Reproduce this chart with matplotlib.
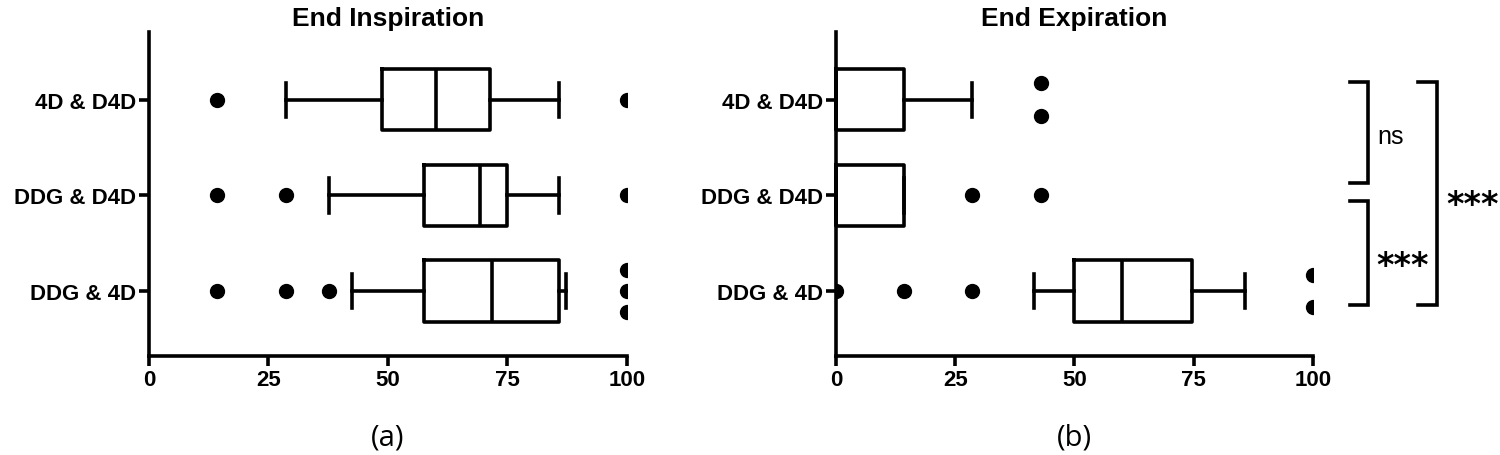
import matplotlib
matplotlib.use('Agg')
import matplotlib.pyplot as plt

# group names (top to bottom)
groups = ['4D & D4D', 'DDG & D4D', 'DDG & 4D']

# End Inspiration box stats
insp_q1 = [48.8, 57.6, 57.6]
insp_med = [60.0, 69.2, 71.7]
insp_q3 = [71.4, 75.0, 85.8]
insp_lo = [28.6, 37.6, 42.5]
insp_hi = [85.7, 85.7, 87.2]
insp_fliers = [[14.3, 100], [14.3, 28.6, 100], [14.3, 28.6, 37.6, 100, 100, 100]]

# End Expiration box stats
exp_q1 = [0.0, 0.0, 50.0]
exp_med = [0.0, 0.0, 60.0]
exp_q3 = [14.3, 14.3, 74.6]
exp_lo = [0.0, 0.0, 41.6]
exp_hi = [28.6, 14.3, 85.7]
exp_fliers = [[42.9, 42.9], [28.6, 42.9], [0.0, 14.3, 28.6, 100, 100]]

xticks = [0, 25, 50, 75, 100]
LW = 2.6
bold_font = ['Liberation Sans', 'DejaVu Sans']


def make_stats(q1, med, q3, lo, hi):
    return [dict(q1=a, med=b, q3=c, whislo=d, whishi=e, fliers=[])
            for a, b, c, d, e in zip(q1, med, q3, lo, hi)]


def spread(vals):
    # stack repeated values vertically like the original
    out = []
    for i, v in enumerate(vals):
        same = [j for j, w in enumerate(vals) if w == v]
        n = len(same)
        k = same.index(i)
        step = 0.22 if n == 3 else 0.34
        out.append((k - (n - 1) / 2) * step)
    return out


def draw_panel(ax, stats, fliers, title, tag):
    pos = list(range(len(groups)))
    art = ax.bxp(stats, positions=pos, vert=False, widths=0.64,
                 showfliers=False, patch_artist=False,
                 boxprops=dict(color='black', linewidth=LW),
                 whiskerprops=dict(color='black', linewidth=LW),
                 capprops=dict(color='black', linewidth=LW),
                 medianprops=dict(color='black', linewidth=LW),
                 capwidths=0.36)
    for key in ['boxes', 'whiskers', 'caps', 'medians']:
        for a in art[key]:
            a.set_clip_on(False)
    for p, fl in zip(pos, fliers):
        offs = spread(fl)
        ax.plot(fl, [p + o for o in offs], 'o', color='black', markersize=10,
                clip_on=True, zorder=3)
    ax.set_xlim(0, 100)
    ax.set_ylim(2.68, -0.71)
    ax.set_yticks(pos)
    ax.set_yticklabels(groups)
    ax.set_xticks(xticks)
    ax.set_xticklabels([str(t) for t in xticks])
    for lab in ax.get_xticklabels() + ax.get_yticklabels():
        lab.set_family(bold_font)
        lab.set_fontweight('bold')
        lab.set_fontsize(16)
    ax.tick_params(axis='both', width=LW, length=7, pad=2)
    ax.spines['top'].set_visible(False)
    ax.spines['right'].set_visible(False)
    ax.spines['left'].set_linewidth(LW)
    ax.spines['bottom'].set_linewidth(LW)
    ax.set_title(title, fontsize=19, fontweight='bold', family=bold_font, pad=5)
    ax.text(0.5, -0.25, tag, transform=ax.transAxes, ha='center', va='center',
            fontsize=21, family='Open Sans')


fig = plt.figure(figsize=(15, 4.56), dpi=100)
ax1 = fig.add_axes([0.0993, 0.217, 0.3187, 0.711])
ax2 = fig.add_axes([0.5573, 0.217, 0.318, 0.711])

draw_panel(ax1, make_stats(insp_q1, insp_med, insp_q3, insp_lo, insp_hi),
           insp_fliers, 'End Inspiration', '(a)')
draw_panel(ax2, make_stats(exp_q1, exp_med, exp_q3, exp_lo, exp_hi),
           exp_fliers, 'End Expiration', '(b)')

# significance brackets
def bracket(ax, x0, x1, y0, y1):
    ax.plot([x0, x1, x1, x0], [y0, y0, y1, y1], color='black', linewidth=LW,
            clip_on=False, solid_joinstyle='miter')

bracket(ax2, 107.8, 111.5, -0.19, 0.875)
bracket(ax2, 107.8, 111.5, 1.06, 2.15)
bracket(ax2, 122.0, 126.0, -0.19, 2.15)
ax2.text(113.6, 0.375, 'ns', fontsize=18, ha='left', va='center', family='Liberation Sans')
ax2.text(113.3, 1.73, '***', fontsize=24, fontweight='bold', ha='left', va='center',
         family='DejaVu Sans')
ax2.text(128.0, 1.10, '***', fontsize=24, fontweight='bold', ha='left', va='center',
         family='DejaVu Sans')

fig.savefig('out.png', dpi=100)
